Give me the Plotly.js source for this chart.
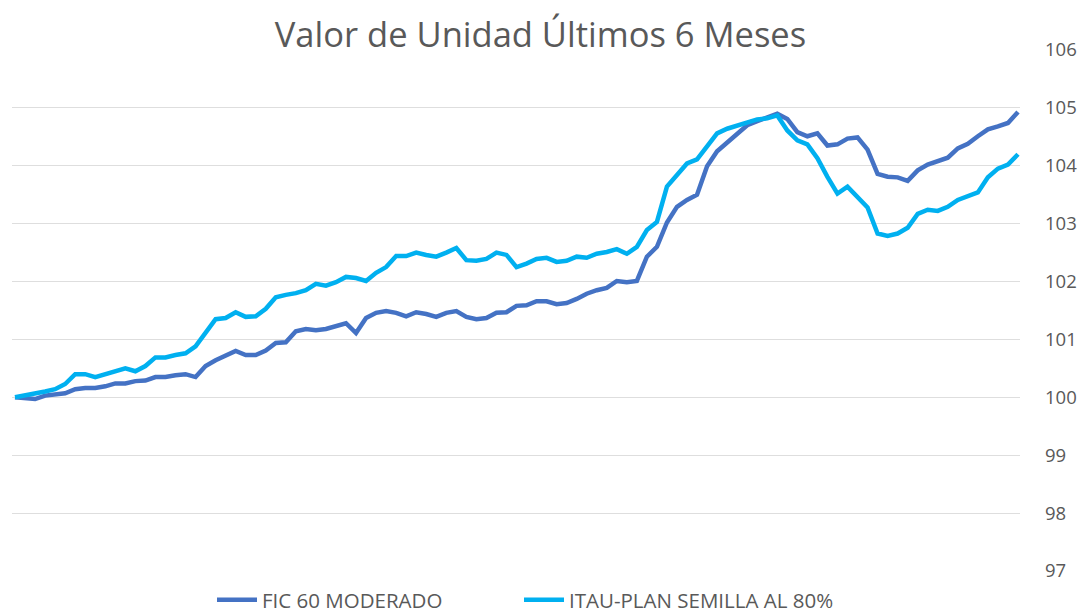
<!DOCTYPE html>
<html>
<head>
<meta charset="utf-8">
<script src="https://cdn.plot.ly/plotly-3.0.1.min.js"></script>
<style>
  html, body { margin: 0; padding: 0; background: #ffffff; }
  #chart { width: 1081px; height: 616px; }
</style>
</head>
<body>
<div id="chart"></div>
<script>
const fic60Moderado = [
  100.00, 99.98, 99.97, 100.03, 100.05, 100.07, 100.14, 100.16, 100.16, 100.19,
  100.24, 100.24, 100.28, 100.29, 100.35, 100.35, 100.38, 100.40, 100.35, 100.54,
  100.64, 100.71, 100.80, 100.73, 100.73, 100.81, 100.94, 100.95, 101.14, 101.18,
  101.16, 101.18, 101.23, 101.28, 101.11, 101.37, 101.46, 101.49, 101.46, 101.40,
  101.47, 101.44, 101.39, 101.46, 101.49, 101.39, 101.35, 101.37, 101.46, 101.47,
  101.58, 101.59, 101.66, 101.66, 101.61, 101.63, 101.70, 101.79, 101.85, 101.89,
  102.01, 101.99, 102.01, 102.43, 102.60, 103.02, 103.29, 103.41, 103.50, 103.99,
  104.25, 104.40, 104.54, 104.70, 104.77, 104.84, 104.90, 104.81, 104.58, 104.51,
  104.56, 104.35, 104.37, 104.47, 104.49, 104.28, 103.86, 103.81, 103.80, 103.74,
  103.92, 104.02, 104.07, 104.14, 104.30, 104.38, 104.51, 104.63, 104.68, 104.74,
  104.93
];
const itauPlanSemilla80 = [
  100.00, 100.03, 100.07, 100.10, 100.14, 100.23, 100.40, 100.40, 100.35, 100.40,
  100.45, 100.50, 100.45, 100.54, 100.69, 100.69, 100.73, 100.76, 100.88, 101.11,
  101.35, 101.37, 101.47, 101.39, 101.40, 101.53, 101.73, 101.77, 101.80, 101.85,
  101.96, 101.93, 101.99, 102.08, 102.06, 102.01, 102.15, 102.25, 102.44, 102.44,
  102.50, 102.46, 102.43, 102.50, 102.58, 102.37, 102.36, 102.39, 102.50, 102.46,
  102.25, 102.31, 102.39, 102.41, 102.34, 102.36, 102.43, 102.41, 102.48, 102.51,
  102.56, 102.48, 102.60, 102.89, 103.03, 103.64, 103.83, 104.04, 104.11, 104.33,
  104.56, 104.64, 104.70, 104.75, 104.80, 104.82, 104.87, 104.61, 104.44, 104.37,
  104.13, 103.81, 103.52, 103.64, 103.45, 103.28, 102.83, 102.79, 102.83, 102.93,
  103.17, 103.24, 103.22, 103.29, 103.41, 103.48, 103.54, 103.80, 103.95, 104.02,
  104.20
];
const seriesNames = ["FIC 60 MODERADO", "ITAU-PLAN SEMILLA AL 80%"];
const yTickValues = [97, 98, 99, 100, 101, 102, 103, 104, 105, 106];
const chartTitle = "Valor de Unidad Últimos 6 Meses";

const obs = fic60Moderado.map((_, i) => i);

const traces = [
  { x: obs, y: fic60Moderado, name: seriesNames[0], type: "scatter", mode: "lines",
    line: { color: "#4472C4", width: 4.5 }, legend: "legend" },
  { x: obs, y: itauPlanSemilla80, name: seriesNames[1], type: "scatter", mode: "lines",
    line: { color: "#00B0F0", width: 4.5 }, legend: "legend2" }
];

const legendFont = { family: "Open Sans, sans-serif", size: 20.5, color: "#595959" };
const legendBase = {
  orientation: "h", xref: "container", xanchor: "left",
  yref: "container", y: 1 - 600/616, yanchor: "middle",
  font: legendFont, itemwidth: 40, bgcolor: "rgba(0,0,0,0)"
};

const layout = {
  width: 1081, height: 616,
  margin: { l: 12, r: 61, t: 50, b: 45 },
  paper_bgcolor: "#ffffff", plot_bgcolor: "#ffffff",
  font: { family: "Open Sans, sans-serif", color: "#595959" },
  title: {
    text: chartTitle,
    font: { family: "Open Sans, sans-serif", size: 34.5, color: "#595959" },
    xref: "container", x: 0.5, xanchor: "center",
    yref: "container", y: 1 - 35/616, yanchor: "middle"
  },
  xaxis: {
    range: [-0.3, obs.length - 1 + 0.2],
    showgrid: false, zeroline: false, showline: false, showticklabels: false, ticks: ""
  },
  yaxis: {
    side: "right", range: [97, 106], tickvals: yTickValues,
    showgrid: true, gridcolor: "#DEDEDE", gridwidth: 1,
    zeroline: false, showline: false, ticks: "",
    ticklabelstandoff: 24,
    tickfont: { family: "Open Sans, sans-serif", size: 18.5, color: "#595959" }
  },
  showlegend: true,
  legend: Object.assign({}, legendBase, { x: 212/1081 }),
  legend2: Object.assign({}, legendBase, { x: 519/1081 })
};

Plotly.newPlot("chart", traces, layout, { displayModeBar: false, staticPlot: true });
</script>
</body>
</html>
